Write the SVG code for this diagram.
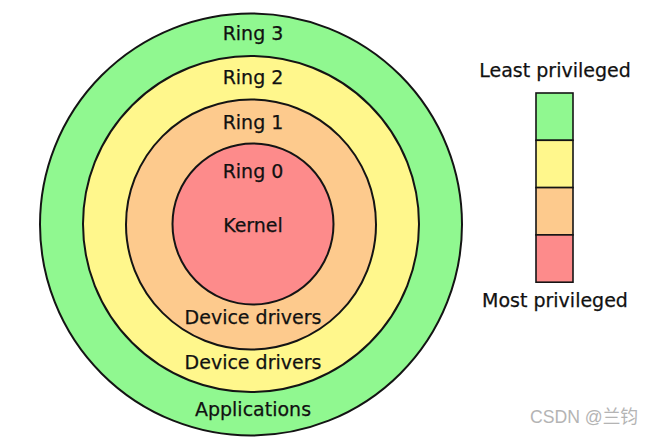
<svg xmlns="http://www.w3.org/2000/svg" width="655" height="438" viewBox="0 0 655 438">
<style>
.ring{stroke:#141414;stroke-width:2}
.leg{stroke:#141414;stroke-width:1.6}
.g{fill:#90f890}
.y{fill:#fff78c}
.o{fill:#fdca8d}
.r{fill:#fd8b8b}
text{font-family:"DejaVu Sans","Noto Sans",sans-serif;font-size:19px;fill:#111;stroke:#111;stroke-width:0.25;text-anchor:middle}
.wm{font-family:"Liberation Sans","Noto Sans CJK SC",sans-serif;font-size:18px;fill:#b4b4b4;stroke:none;text-anchor:start}
</style>
<rect width="655" height="438" fill="#ffffff"/>
<g id="ring3">
<circle class="ring g" cx="251" cy="224.5" r="211"/>
<text x="253" y="40">Ring 3</text>
<text x="253" y="416">Applications</text>
</g>
<g id="ring2">
<circle class="ring y" cx="251" cy="224" r="168"/>
<text x="253" y="84">Ring 2</text>
<text x="253" y="369">Device drivers</text>
</g>
<g id="ring1">
<circle class="ring o" cx="251" cy="224.5" r="125"/>
<text x="253" y="129">Ring 1</text>
<text x="253" y="324">Device drivers</text>
</g>
<g id="ring0">
<circle class="ring r" cx="253" cy="224" r="80.5"/>
<text x="253" y="178">Ring 0</text>
<text x="253" y="232">Kernel</text>
</g>
<g id="legend">
<text x="555" y="77">Least privileged</text>
<rect class="leg g" x="536" y="93" width="37" height="47.3"/>
<rect class="leg y" x="536" y="140.3" width="37" height="47.3"/>
<rect class="leg o" x="536" y="187.6" width="37" height="47.3"/>
<rect class="leg r" x="536" y="234.9" width="37" height="47.3"/>
<text x="555" y="307">Most privileged</text>
</g>
<g id="connectors"/>
<text class="wm" x="530" y="423" textLength="108" lengthAdjust="spacingAndGlyphs">CSDN @兰钧</text>
</svg>
